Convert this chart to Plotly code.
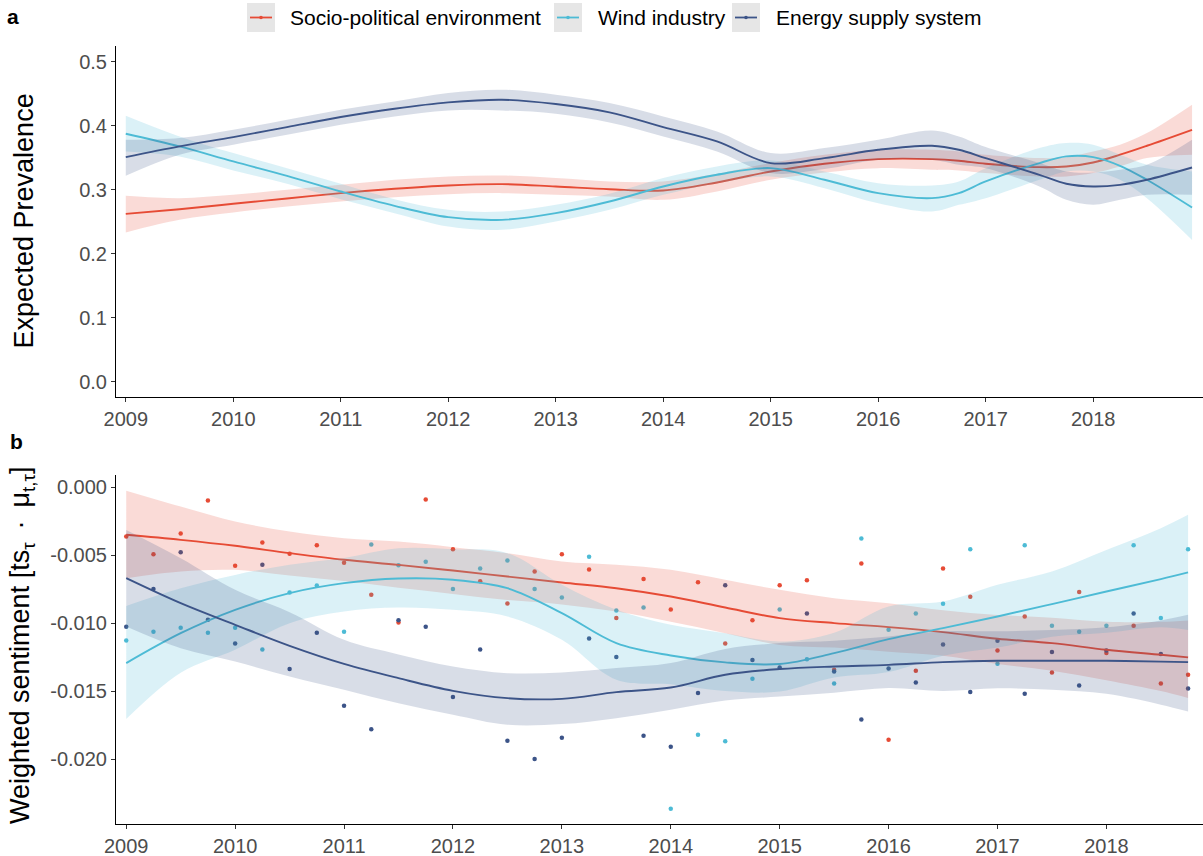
import plotly.graph_objects as go

# ---------------- data ----------------
series_names = ["Socio-political environment", "Wind industry", "Energy supply system"]
series_colors = ["#E64B35", "#4DBBD5", "#3C5488"]
band_colors = ["rgba(230,75,53,0.2)", "rgba(77,187,213,0.2)", "rgba(60,84,136,0.2)"]

# Panel a: expected prevalence (smoothed estimate with CI)
a_t = [2009.0, 2009.5, 2010.0, 2010.5, 2011.0, 2011.5, 2012.0, 2012.5, 2013.0, 2013.5,
       2014.0, 2014.5, 2015.0, 2015.5, 2016.0, 2016.5, 2016.75, 2017.0, 2017.5, 2017.75,
       2018.0, 2018.25, 2018.5, 2018.92]
a_socio = [0.2625, 0.2698, 0.2782, 0.2865, 0.2949, 0.3017, 0.3069, 0.3090, 0.3053, 0.3011,
           0.2991, 0.3116, 0.3288, 0.3408, 0.3481, 0.3481, 0.3455, 0.3408, 0.3356, 0.3366,
           0.3429, 0.3550, 0.3690, 0.3940]
a_socio_hi = [0.2907, 0.2871, 0.2923, 0.3001, 0.3079, 0.3158, 0.3210, 0.3225, 0.3184, 0.3132,
              0.3132, 0.3252, 0.3419, 0.3549, 0.3627, 0.3627, 0.3601, 0.3549, 0.3497, 0.3512,
              0.3601, 0.3706, 0.3888, 0.4332]
a_socio_lo = [0.2333, 0.2531, 0.2646, 0.2740, 0.2818, 0.2886, 0.2933, 0.2949, 0.2923, 0.2897,
              0.2844, 0.2975, 0.3158, 0.3272, 0.3340, 0.3314, 0.3304, 0.3262, 0.3210, 0.3210,
              0.3262, 0.3366, 0.3497, 0.3549]
a_wind = [0.3878, 0.3680, 0.3445, 0.3220, 0.2975, 0.2751, 0.2573, 0.2531, 0.2636, 0.2818,
          0.3053, 0.3236, 0.3340, 0.3158, 0.2949, 0.2871, 0.2949, 0.3132, 0.3419, 0.3523,
          0.3513, 0.3377, 0.3158, 0.2724]
a_wind_hi = [0.4160, 0.3836, 0.3575, 0.3340, 0.3095, 0.2855, 0.2688, 0.2662, 0.2766, 0.2938,
             0.3184, 0.3366, 0.3460, 0.3288, 0.3105, 0.3069, 0.3132, 0.3340, 0.3653, 0.3732,
             0.3706, 0.3549, 0.3392, 0.3288]
a_wind_lo = [0.3601, 0.3523, 0.3304, 0.3095, 0.2855, 0.2636, 0.2427, 0.2375, 0.2505, 0.2688,
             0.2923, 0.3105, 0.3210, 0.3027, 0.2792, 0.2662, 0.2766, 0.2871, 0.3158, 0.3288,
             0.3288, 0.3158, 0.2871, 0.2218]
a_energy = [0.3513, 0.3680, 0.3826, 0.3982, 0.4139, 0.4269, 0.4368, 0.4410, 0.4342, 0.4212,
            0.3982, 0.3758, 0.3419, 0.3497, 0.3627, 0.3690, 0.3627, 0.3497, 0.3236, 0.3095,
            0.3053, 0.3079, 0.3158, 0.3350]
a_energy_hi = [0.3784, 0.3810, 0.3940, 0.4097, 0.4254, 0.4384, 0.4515, 0.4567, 0.4489, 0.4358,
               0.4149, 0.3914, 0.3575, 0.3653, 0.3784, 0.3930, 0.3836, 0.3669, 0.3419, 0.3288,
               0.3272, 0.3314, 0.3392, 0.3784]
a_energy_lo = [0.3220, 0.3549, 0.3706, 0.3862, 0.4019, 0.4149, 0.4243, 0.4243, 0.4191, 0.4055,
               0.3836, 0.3601, 0.3262, 0.3325, 0.3471, 0.3471, 0.3393, 0.3340, 0.3053, 0.2844,
               0.2766, 0.2844, 0.2923, 0.2923]

# Panel b: weighted sentiment, quarterly observations
b_q = [2009.0 + 0.25 * i for i in range(40)]
b_socio_pts = [-0.00363, -0.00493, -0.00341, -0.00098, -0.00578, -0.00407, -0.00490, -0.00426,
               -0.00556, -0.00792, -0.00995, -0.00091, -0.00456, -0.00691, -0.00855, -0.00620,
               -0.00493, -0.00605, -0.00963, -0.00676, -0.00900, -0.00699, -0.01150, -0.00978,
               -0.00721, -0.00684, -0.01343, -0.00561, -0.01858, -0.01351, -0.00598, -0.00806,
               -0.01201, -0.00951, -0.01363, -0.00770, -0.01220, -0.01020, -0.01444, -0.01380]
b_wind_pts = [-0.01127, -0.01064, -0.01034, -0.01071, -0.01034, -0.01194, -0.00775, -0.00723,
              -0.01064, -0.00422, -0.00574, -0.00549, -0.00748, -0.00598, -0.00539, -0.00748,
              -0.00811, -0.00512, -0.00907, -0.00885, -0.02365, -0.01821, -0.01870, -0.01410,
              -0.00900, -0.01265, -0.01444, -0.00377, -0.01049, -0.00929, -0.00858, -0.00456,
              -0.01299, -0.00426, -0.01020, -0.01064, -0.01020, -0.00426, -0.00963, -0.00456]
b_energy_pts = [-0.01027, -0.00748, -0.00478, -0.00975, -0.01150, -0.00571, -0.01338, -0.01071,
                -0.01608, -0.01780, -0.00978, -0.01027, -0.01544, -0.01194, -0.01865, -0.02000,
                -0.01843, -0.01113, -0.01250, -0.01829, -0.01910, -0.01515, -0.00721, -0.01272,
                -0.01326, -0.00929, -0.01356, -0.01709, -0.01334, -0.01437, -0.01157, -0.01507,
                -0.01130, -0.01520, -0.01213, -0.01459, -0.01201, -0.00929, -0.01228, -0.01481]

# Panel b: smoothed fits with CI
b_t = [2009.0, 2009.5, 2010.0, 2010.5, 2011.0, 2011.5, 2012.0, 2012.5, 2013.0, 2013.5,
       2014.0, 2014.5, 2015.0, 2015.5, 2016.0, 2016.5, 2017.0, 2017.5, 2018.0, 2018.5, 2018.75]
b_socio = [-0.00350, -0.00387, -0.00431, -0.00485, -0.00534, -0.00571, -0.00613, -0.00657,
           -0.00701, -0.00743, -0.00804, -0.00885, -0.00963, -0.01000, -0.01029, -0.01066,
           -0.01115, -0.01147, -0.01196, -0.01233, -0.01252]
b_socio_hi = [-0.00025, -0.00142, -0.00252, -0.00326, -0.00375, -0.00400, -0.00441, -0.00485,
              -0.00547, -0.00571, -0.00608, -0.00681, -0.00755, -0.00816, -0.00853, -0.00905,
              -0.00940, -0.00960, -0.00990, -0.00990, -0.00980]
b_socio_lo = [-0.00669, -0.00620, -0.00608, -0.00650, -0.00690, -0.00740, -0.00785, -0.00830,
              -0.00862, -0.00915, -0.00990, -0.01074, -0.01160, -0.01180, -0.01210, -0.01240,
              -0.01300, -0.01350, -0.01420, -0.01500, -0.01550]
b_wind = [-0.01294, -0.01074, -0.00902, -0.00779, -0.00706, -0.00672, -0.00681, -0.00743,
          -0.00926, -0.01147, -0.01238, -0.01289, -0.01301, -0.01221, -0.01118, -0.01037,
          -0.00951, -0.00860, -0.00767, -0.00676, -0.00627]
b_wind_hi = [-0.00873, -0.00743, -0.00645, -0.00570, -0.00520, -0.00449, -0.00456, -0.00485,
             -0.00718, -0.00902, -0.01012, -0.01074, -0.01135, -0.01070, -0.00877, -0.00841,
             -0.00718, -0.00620, -0.00461, -0.00301, -0.00203]
b_wind_lo = [-0.01706, -0.01365, -0.01196, -0.01000, -0.00914, -0.00885, -0.00902, -0.00951,
             -0.01123, -0.01417, -0.01450, -0.01500, -0.01503, -0.01400, -0.01360, -0.01240,
             -0.01180, -0.01100, -0.01070, -0.01030, -0.01050]
b_energy = [-0.00669, -0.00853, -0.01012, -0.01167, -0.01300, -0.01405, -0.01498, -0.01552,
            -0.01557, -0.01508, -0.01474, -0.01380, -0.01338, -0.01319, -0.01307, -0.01287,
            -0.01277, -0.01277, -0.01277, -0.01283, -0.01287]
b_energy_hi = [-0.00314, -0.00522, -0.00755, -0.00920, -0.01123, -0.01230, -0.01319, -0.01368,
               -0.01363, -0.01331, -0.01294, -0.01190, -0.01147, -0.01130, -0.01098, -0.01060,
               -0.01060, -0.01050, -0.01030, -0.00980, -0.00939]
b_energy_lo = [-0.01024, -0.01184, -0.01282, -0.01393, -0.01490, -0.01590, -0.01674, -0.01748,
               -0.01743, -0.01699, -0.01637, -0.01570, -0.01540, -0.01512, -0.01478, -0.01500,
               -0.01480, -0.01490, -0.01520, -0.01600, -0.01650]

year_ticks = [2009, 2010, 2011, 2012, 2013, 2014, 2015, 2016, 2017, 2018]
year_labels = [str(y) for y in year_ticks]
a_yticks = [0.0, 0.1, 0.2, 0.3, 0.4, 0.5]
a_ylabels = ["0.0", "0.1", "0.2", "0.3", "0.4", "0.5"]
b_yticks = [0.0, -0.005, -0.010, -0.015, -0.020]
b_ylabels = ["0.000", "-0.005", "-0.010", "-0.015", "-0.020"]

# ---------------- figure ----------------
FONT = "Liberation Sans, Arial, sans-serif"
W, H = 1203, 856
ML, MR, MT, MB = 116, 0, 46, 32
PW, PH = W - ML - MR, H - MT - MB


def px_x(px):
    return (px - ML) / PW


def px_y(py):
    return (H - MB - py) / PH


fig = go.Figure()

# panel b points first (under ribbons)
for name, col, pts in zip(series_names, series_colors, [b_socio_pts, b_wind_pts, b_energy_pts]):
    fig.add_trace(go.Scatter(x=b_q, y=pts, mode="markers", xaxis="x2", yaxis="y2",
                             marker=dict(color=col, size=4.5), showlegend=False,
                             hoverinfo="skip"))


def add_smooth(t, fit, hi, lo, col, band, xa, ya):
    fig.add_trace(go.Scatter(x=t, y=lo, mode="lines", xaxis=xa, yaxis=ya,
                             line=dict(width=0, shape="spline", smoothing=1.0, color=band),
                             showlegend=False, hoverinfo="skip"))
    fig.add_trace(go.Scatter(x=t, y=hi, mode="lines", xaxis=xa, yaxis=ya, fill="tonexty",
                             fillcolor=band,
                             line=dict(width=0, shape="spline", smoothing=1.0, color=band),
                             showlegend=False, hoverinfo="skip"))
    fig.add_trace(go.Scatter(x=t, y=fit, mode="lines", xaxis=xa, yaxis=ya,
                             line=dict(width=1.9, shape="spline", smoothing=1.0, color=col),
                             showlegend=False))


a_sets = [(a_socio, a_socio_hi, a_socio_lo), (a_wind, a_wind_hi, a_wind_lo),
          (a_energy, a_energy_hi, a_energy_lo)]
b_sets = [(b_socio, b_socio_hi, b_socio_lo), (b_wind, b_wind_hi, b_wind_lo),
          (b_energy, b_energy_hi, b_energy_lo)]
for (f, h, l), col, band in zip(a_sets, series_colors, band_colors):
    add_smooth(a_t, f, h, l, col, band, "x", "y")
for (f, h, l), col, band in zip(b_sets, series_colors, band_colors):
    add_smooth(b_t, f, h, l, col, band, "x2", "y2")

axis_common = dict(showgrid=False, zeroline=False, showline=True, linecolor="#000000",
                   linewidth=1.1, ticks="outside", ticklen=4, tickwidth=1, tickcolor="#333333",
                   tickfont=dict(family=FONT, size=20, color="#4D4D4D"))

a_top, a_bot = 46, 397
b_top, b_bot = 475, H - MB

fig.update_layout(
    width=W, height=H, margin=dict(l=ML, r=MR, t=MT, b=MB),
    plot_bgcolor="white", paper_bgcolor="white", showlegend=False,
    font=dict(family=FONT),
    xaxis=dict(domain=[0, 1], anchor="y", range=[2008.909, 2019.022],
               tickvals=year_ticks, ticktext=year_labels, **axis_common),
    yaxis=dict(domain=[px_y(a_bot), 1], anchor="x", range=[-0.0239, 0.525],
               tickvals=a_yticks, ticktext=a_ylabels, **axis_common),
    xaxis2=dict(domain=[0, 1], anchor="y2", range=[2008.906, 2018.887],
                tickvals=year_ticks, ticktext=year_labels, **axis_common),
    yaxis2=dict(domain=[0, px_y(b_top)], anchor="x2", range=[-0.02478, 0.0009],
                tickvals=b_yticks, ticktext=b_ylabels, **axis_common),
)

ann = []
# axis titles
ann.append(dict(text="Expected Prevalence", textangle=-90, xref="paper", yref="paper",
                x=px_x(23), y=px_y((a_top + a_bot) / 2), xanchor="center", yanchor="middle",
                showarrow=False, font=dict(family=FONT, size=27, color="#000000")))
ann.append(dict(text="Weighted sentiment [ts<sub>τ</sub> \u2009·\u2009 μ<sub>t,τ</sub>]",
                textangle=-90, xref="paper", yref="paper", x=px_x(22), y=px_y(646),
                xanchor="center", yanchor="middle", showarrow=False,
                font=dict(family=FONT, size=27, color="#000000")))
# panel tags
ann.append(dict(text="<b>a</b>", xref="paper", yref="paper", x=px_x(13), y=px_y(17),
                xanchor="center", yanchor="middle", showarrow=False,
                font=dict(family=FONT, size=21, color="#000000")))
ann.append(dict(text="<b>b</b>", xref="paper", yref="paper", x=px_x(16), y=px_y(442),
                xanchor="center", yanchor="middle", showarrow=False,
                font=dict(family=FONT, size=21, color="#000000")))

# legend (top, centred)
shapes = []
leg_boxes = [247, 554, 732]
leg_text_x = [288, 596, 774]
leg_y0, leg_y1 = 3, 32
leg_cy = (leg_y0 + leg_y1) / 2
for bx, tx, name, col in zip(leg_boxes, leg_text_x, series_names, series_colors):
    shapes.append(dict(type="rect", xref="paper", yref="paper",
                       x0=px_x(bx), x1=px_x(bx + 28), y0=px_y(leg_y1), y1=px_y(leg_y0),
                       fillcolor="#E6E6E6", line=dict(width=0), layer="above"))
    shapes.append(dict(type="line", xref="paper", yref="paper",
                       x0=px_x(bx + 3), x1=px_x(bx + 25), y0=px_y(leg_cy), y1=px_y(leg_cy),
                       line=dict(color=col, width=1.8), layer="above"))
    shapes.append(dict(type="circle", xref="paper", yref="paper",
                       x0=px_x(bx + 12.2), x1=px_x(bx + 15.8), y0=px_y(leg_cy + 1.8),
                       y1=px_y(leg_cy - 1.8), fillcolor=col, line=dict(width=0), layer="above"))
    ann.append(dict(text=name, xref="paper", yref="paper", x=px_x(tx), y=px_y(leg_cy),
                    xanchor="left", yanchor="middle", showarrow=False,
                    font=dict(family=FONT, size=21, color="#000000")))

fig.update_layout(annotations=ann, shapes=shapes)
fig.write_html("out.html", config={"displayModeBar": False},
               post_script="document.body.style.margin='0px';document.body.style.overflow='hidden';")
